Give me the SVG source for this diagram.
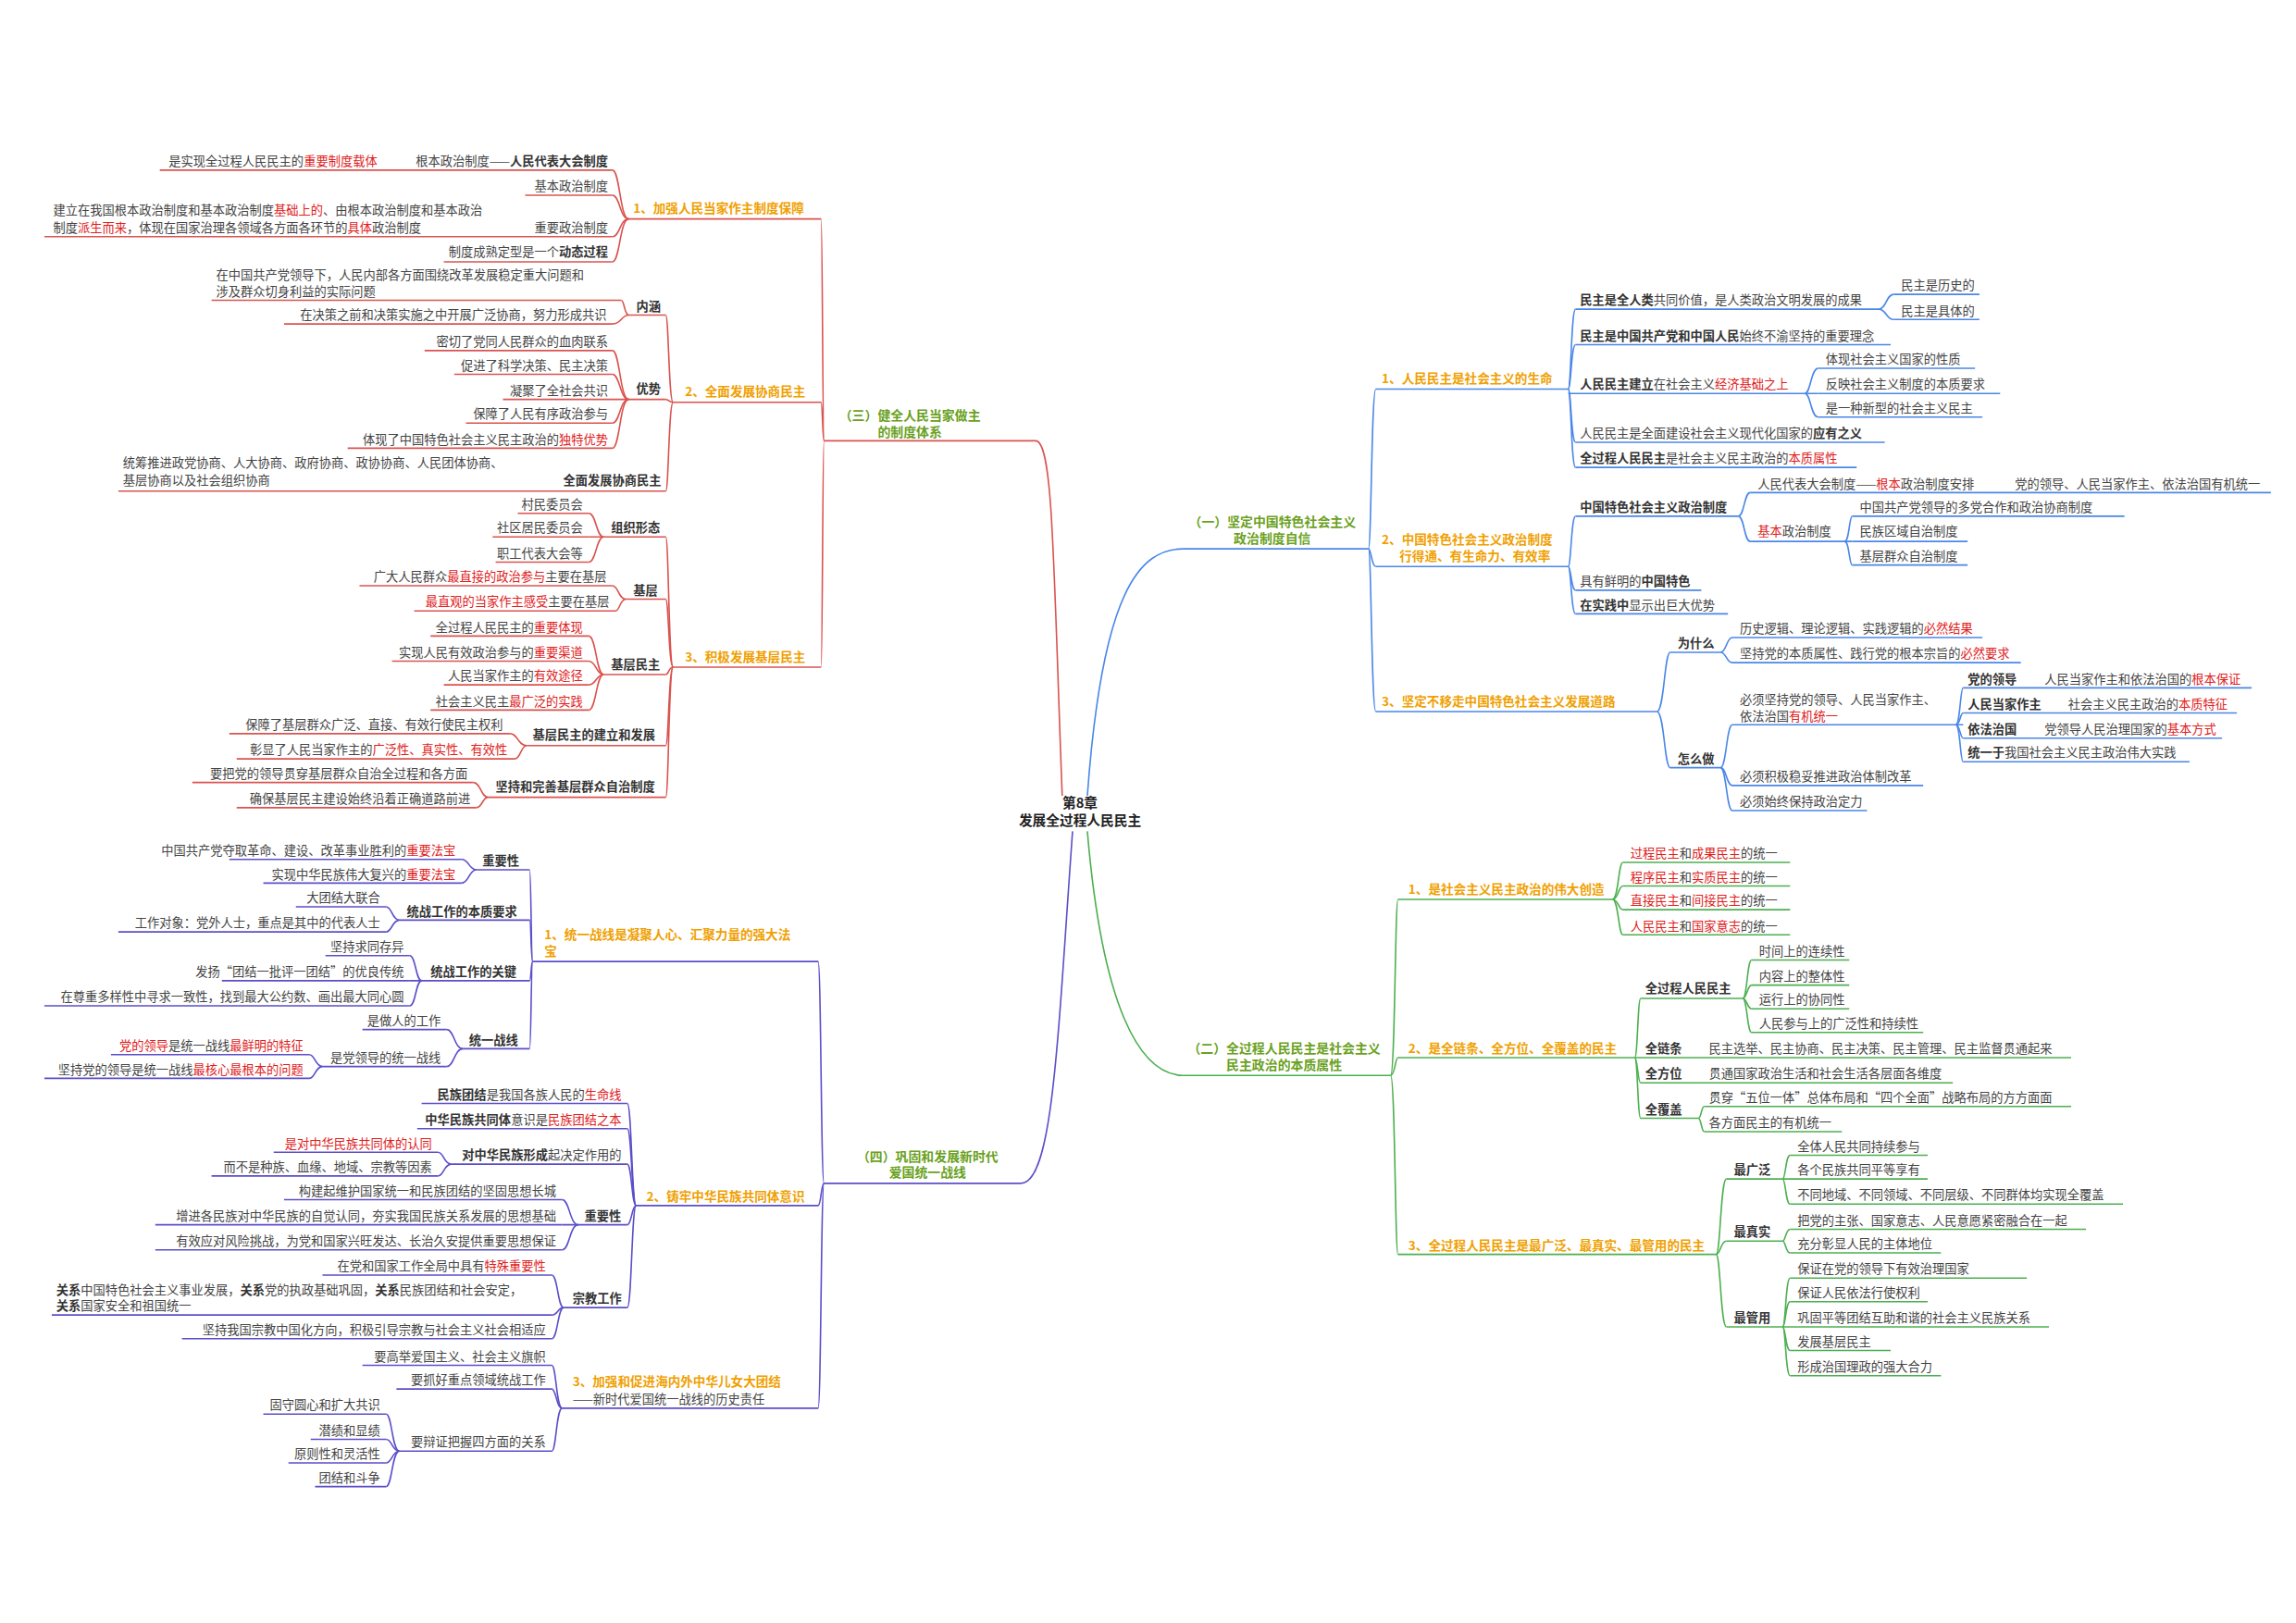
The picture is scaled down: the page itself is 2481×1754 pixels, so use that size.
<svg xmlns="http://www.w3.org/2000/svg" width="2481" height="1754" viewBox="0 0 2481 1754">
<style>
text{font-family:"Noto Sans CJK SC","Noto Sans",sans-serif;font-size:8.3px;fill:#444}
.b{font-weight:bold;fill:#333}
.r{fill:#e0201b}
.o{fill:#f0a000;font-weight:bold;font-size:8.5px}
.g{fill:#6aa121;font-weight:bold;font-size:8.7px}
.root{font-weight:bold;font-size:9.2px;fill:#222;text-anchor:middle}
.e{text-anchor:end}
.m{text-anchor:middle}
path,line{fill:none;stroke-width:1}
.R{stroke:#d9534f}.B{stroke:#4a86e8}.G{stroke:#4caf50}.P{stroke:#5b4ec9}
</style>
<rect width="2481" height="1754" fill="#fff"/>
<g transform="scale(1.5986)">
<g id="connectors">
<path class="R" d="M718,538 C712,380 712,298 700,298"/>
<path class="B" d="M735,538 C745,400 770,371 800,371"/>
<path class="G" d="M735,562 C745,680 770,727 800,727"/>
<path class="P" d="M725,562 C715,700 712,800 690,800"/>
<path class="R" d="M557,298 C556,298 556,148 555,148"/>
<path class="R" d="M557,298 C556,298 556,272 555,272"/>
<path class="R" d="M557,298 C556,298 556,451 555,451"/>
<path class="R" d="M425,148 C419,148 419,115 414,115"/>
<path class="R" d="M425,148 C419,148 419,132 414,132"/>
<path class="R" d="M425,148 C419,148 419,160 414,160"/>
<path class="R" d="M425,148 C419,148 419,177 414,177"/>
<path class="R" d="M455,272 C452,272 452,213 450,213"/>
<path class="R" d="M455,272 C452,272 452,270 450,270"/>
<path class="R" d="M455,272 C452,272 452,332 450,332"/>
<path class="R" d="M425,213 C422,213 422,203 420,203"/>
<path class="R" d="M425,213 C420,213 420,219 414,219"/>
<path class="R" d="M425,270 C419,270 419,237 414,237"/>
<path class="R" d="M425,270 C419,270 419,253 414,253"/>
<path class="R" d="M425,270 C419,270 419,286 414,286"/>
<path class="R" d="M425,270 C419,270 419,303 414,303"/>
<path class="R" d="M455,451 C452,451 452,363 450,363"/>
<path class="R" d="M455,451 C452,451 452,405 450,405"/>
<path class="R" d="M455,451 C452,451 452,456 450,456"/>
<path class="R" d="M455,451 C452,451 452,504 450,504"/>
<path class="R" d="M455,451 C452,451 452,539 450,539"/>
<path class="R" d="M408,363 C403,363 403,347 398,347"/>
<path class="R" d="M408,363 C403,363 403,380 398,380"/>
<path class="R" d="M423,405 C418,405 418,396 414,396"/>
<path class="R" d="M423,405 C419,405 419,413 416,413"/>
<path class="R" d="M408,456 C403,456 403,430 398,430"/>
<path class="R" d="M408,456 C403,456 403,447 398,447"/>
<path class="R" d="M408,456 C403,456 403,463 398,463"/>
<path class="R" d="M408,456 C403,456 403,480 398,480"/>
<path class="R" d="M356,504 C350,504 350,496 345,496"/>
<path class="R" d="M356,504 C352,504 352,513 348,513"/>
<path class="R" d="M330,539 C325,539 325,529 320,529"/>
<path class="R" d="M330,539 C326,539 326,546 322,546"/>
<path class="P" d="M557,800 C555,800 555,650 553,650"/>
<path class="P" d="M557,800 C555,800 555,815 553,815"/>
<path class="P" d="M557,800 C555,800 555,952 553,952"/>
<path class="P" d="M360,650 C359,650 359,588 358,588"/>
<path class="P" d="M360,650 C359,650 359,622 358,622"/>
<path class="P" d="M360,650 C359,650 359,663 358,663"/>
<path class="P" d="M360,650 C359,650 359,709 358,709"/>
<path class="P" d="M322,588 C317,588 317,581 312,581"/>
<path class="P" d="M322,588 C317,588 317,597 312,597"/>
<path class="P" d="M270,622 C265,622 265,613 261,613"/>
<path class="P" d="M270,622 C265,622 265,630 261,630"/>
<path class="P" d="M285,663 C281,663 281,646 277,646"/>
<path class="P" d="M285,663 C281,663 281,680 277,680"/>
<path class="P" d="M313,709 C307,709 307,696 302,696"/>
<path class="P" d="M313,709 C307,709 307,721 302,721"/>
<path class="P" d="M218,721 C213,721 213,713 209,713"/>
<path class="P" d="M218,721 C213,721 213,729 209,729"/>
<path class="P" d="M430,815 C427,815 427,746 424,746"/>
<path class="P" d="M430,815 C427,815 427,763 424,763"/>
<path class="P" d="M430,815 C427,815 427,787 424,787"/>
<path class="P" d="M430,815 C427,815 427,828 424,828"/>
<path class="P" d="M430,815 C427,815 427,884 424,884"/>
<path class="P" d="M305,787 C300,787 300,779 296,779"/>
<path class="P" d="M305,787 C300,787 300,795 296,795"/>
<path class="P" d="M391,828 C385,828 385,811 380,811"/>
<path class="P" d="M391,828 C385,828 385,845 380,845"/>
<path class="P" d="M381,884 C377,884 377,862 373,862"/>
<path class="P" d="M381,884 C377,884 377,889 373,889"/>
<path class="P" d="M381,884 C377,884 377,905 373,905"/>
<path class="P" d="M380,952 C376,952 376,923 373,923"/>
<path class="P" d="M380,952 C376,952 376,939 373,939"/>
<path class="P" d="M380,952 C376,952 376,981 373,981"/>
<path class="P" d="M270,981 C265,981 265,956 261,956"/>
<path class="P" d="M270,981 C265,981 265,973 261,973"/>
<path class="P" d="M270,981 C265,981 265,989 261,989"/>
<path class="P" d="M270,981 C265,981 265,1005 261,1005"/>
<path class="B" d="M925,371 C927,371 927,263 930,263"/>
<path class="B" d="M925,371 C927,371 927,383 930,383"/>
<path class="B" d="M925,371 C927,371 927,481 930,481"/>
<path class="B" d="M1060,263 C1062,263 1062,209 1065,209"/>
<path class="B" d="M1060,263 C1062,263 1062,233 1065,233"/>
<path class="B" d="M1060,263 C1062,263 1062,299 1065,299"/>
<path class="B" d="M1060,263 C1062,263 1062,316 1065,316"/>
<path class="B" d="M1270,209 C1275,209 1275,199 1280,199"/>
<path class="B" d="M1270,209 C1275,209 1275,216 1280,216"/>
<path class="B" d="M1220,266 C1224,266 1224,249 1229,249"/>
<path class="B" d="M1220,266 C1224,266 1224,282 1229,282"/>
<path class="B" d="M1060,383 C1062,383 1062,349 1065,349"/>
<path class="B" d="M1060,383 C1062,383 1062,399 1065,399"/>
<path class="B" d="M1060,383 C1062,383 1062,415 1065,415"/>
<path class="B" d="M1175,349 C1179,349 1179,333 1183,333"/>
<path class="B" d="M1175,349 C1179,349 1179,366 1183,366"/>
<path class="B" d="M1247,366 C1250,366 1250,349 1252,349"/>
<path class="B" d="M1247,366 C1250,366 1250,382 1252,382"/>
<path class="B" d="M1120,481 C1125,481 1125,441 1129,441"/>
<path class="B" d="M1120,481 C1125,481 1125,519 1129,519"/>
<path class="B" d="M1163,441 C1167,441 1167,431 1171,431"/>
<path class="B" d="M1163,441 C1167,441 1167,448 1171,448"/>
<path class="B" d="M1163,519 C1167,519 1167,490 1171,490"/>
<path class="B" d="M1163,519 C1167,519 1167,531 1171,531"/>
<path class="B" d="M1163,519 C1167,519 1167,548 1171,548"/>
<path class="B" d="M1322,490 C1325,490 1325,465 1327,465"/>
<path class="B" d="M1322,490 C1325,490 1325,482 1327,482"/>
<path class="B" d="M1322,490 C1325,490 1325,499 1327,499"/>
<path class="B" d="M1322,490 C1325,490 1325,515 1327,515"/>
<path class="G" d="M940,727 C943,727 943,608 945,608"/>
<path class="G" d="M940,727 C943,727 943,715 945,715"/>
<path class="G" d="M940,727 C943,727 943,848 945,848"/>
<path class="G" d="M1090,608 C1094,608 1094,583 1097,583"/>
<path class="G" d="M1090,608 C1094,608 1094,599 1097,599"/>
<path class="G" d="M1090,608 C1094,608 1094,615 1097,615"/>
<path class="G" d="M1090,608 C1094,608 1094,632 1097,632"/>
<path class="G" d="M1105,715 C1107,715 1107,675 1109,675"/>
<path class="G" d="M1105,715 C1107,715 1107,732 1109,732"/>
<path class="G" d="M1105,715 C1107,715 1107,756 1109,756"/>
<path class="G" d="M1178,675 C1181,675 1181,649 1184,649"/>
<path class="G" d="M1178,675 C1181,675 1181,666 1184,666"/>
<path class="G" d="M1178,675 C1181,675 1181,682 1184,682"/>
<path class="G" d="M1178,675 C1181,675 1181,698 1184,698"/>
<path class="G" d="M1148,756 C1150,756 1150,748 1152,748"/>
<path class="G" d="M1148,756 C1150,756 1150,765 1152,765"/>
<path class="G" d="M1160,848 C1163,848 1163,797 1167,797"/>
<path class="G" d="M1160,848 C1163,848 1163,839 1167,839"/>
<path class="G" d="M1160,848 C1163,848 1163,897 1167,897"/>
<path class="G" d="M1205,797 C1207,797 1207,781 1210,781"/>
<path class="G" d="M1205,797 C1207,797 1207,814 1210,814"/>
<path class="G" d="M1205,839 C1207,839 1207,831 1210,831"/>
<path class="G" d="M1205,839 C1207,839 1207,847 1210,847"/>
<path class="G" d="M1205,897 C1207,897 1207,864 1210,864"/>
<path class="G" d="M1205,897 C1207,897 1207,880 1210,880"/>
<path class="G" d="M1205,897 C1207,897 1207,913 1210,913"/>
<path class="G" d="M1205,897 C1207,897 1207,930 1210,930"/>
</g>

<g id="root"><text class="root" x="730" y="546">第8章</text><text class="root" x="730" y="558">发展全过程人民民主</text></g>

<g id="n3"><text class="g m" x="615" y="284">（三）健全人民当家做主</text><text class="g m" x="615" y="295">的制度体系</text><line class="R" x1="557" y1="298" x2="700" y2="298"/></g>
<g id="n3-1"><text class="o" x="428" y="144">1、加强人民当家作主制度保障</text><line class="R" x1="425" y1="148" x2="555" y2="148"/></g>
<g id="n3-1-1"><text class="e" x="411" y="112">根本政治制度——<tspan class="b">人民代表大会制度</tspan></text><text class="e" x="255" y="112">是实现全过程人民民主的<tspan class="r">重要制度载体</tspan></text><line class="R" x1="108" y1="115" x2="414" y2="115"/></g>
<g id="n3-1-2"><text class="e" x="411" y="129">基本政治制度</text><line class="R" x1="355" y1="132" x2="414" y2="132"/></g>
<g id="n3-1-3"><text class="e" x="411" y="157">重要政治制度</text><text x="36" y="145">建立在我国根本政治制度和基本政治制度<tspan class="r">基础上的</tspan>、由根本政治制度和基本政治</text><text x="36" y="157">制度<tspan class="r">派生而来</tspan>，体现在国家治理各领域各方面各环节的<tspan class="r">具体</tspan>政治制度</text><line class="R" x1="30" y1="160" x2="414" y2="160"/></g>
<g id="n3-1-4"><text class="e" x="411" y="173">制度成熟定型是一个<tspan class="b">动态过程</tspan></text><line class="R" x1="300" y1="177" x2="414" y2="177"/></g>
<g id="n3-2"><text class="o" x="463" y="268">2、全面发展协商民主</text><line class="R" x1="455" y1="272" x2="555" y2="272"/></g>
<g id="n3-2-1"><text class="b" x="430" y="210">内涵</text><line class="R" x1="425" y1="213" x2="450" y2="213"/></g>
<g id="n3-2-1a"><text x="146" y="189">在中国共产党领导下，人民内部各方面围绕改革发展稳定重大问题和</text><text x="146" y="200">涉及群众切身利益的实际问题</text><line class="R" x1="143" y1="203" x2="420" y2="203"/></g>
<g id="n3-2-1b"><text class="e" x="410" y="216">在决策之前和决策实施之中开展广泛协商，努力形成共识</text><line class="R" x1="192" y1="219" x2="414" y2="219"/></g>
<g id="n3-2-2"><text class="b" x="430" y="266">优势</text><line class="R" x1="425" y1="270" x2="450" y2="270"/></g>
<g id="n3-2-2a"><text class="e" x="411" y="234">密切了党同人民群众的血肉联系</text><line class="R" x1="287" y1="237" x2="414" y2="237"/></g>
<g id="n3-2-2b"><text class="e" x="411" y="250">促进了科学决策、民主决策</text><line class="R" x1="307" y1="253" x2="414" y2="253"/></g>
<g id="n3-2-2c"><text class="e" x="411" y="267">凝聚了全社会共识</text><line class="R" x1="340" y1="270" x2="425" y2="270"/></g>
<g id="n3-2-2d"><text class="e" x="411" y="283">保障了人民有序政治参与</text><line class="R" x1="315" y1="286" x2="414" y2="286"/></g>
<g id="n3-2-2e"><text class="e" x="411" y="300">体现了中国特色社会主义民主政治的<tspan class="r">独特优势</tspan></text><line class="R" x1="235" y1="303" x2="414" y2="303"/></g>
<g id="n3-2-3"><text class="b e" x="447" y="328">全面发展协商民主</text><text x="83" y="316">统筹推进政党协商、人大协商、政府协商、政协协商、人民团体协商、</text><text x="83" y="328">基层协商以及社会组织协商</text><line class="R" x1="80" y1="332" x2="450" y2="332"/></g>
<g id="n3-3"><text class="o" x="463" y="447">3、积极发展基层民主</text><line class="R" x1="455" y1="451" x2="555" y2="451"/></g>
<g id="n3-3-1"><text class="b" x="413" y="360">组织形态</text><line class="R" x1="398" y1="363" x2="450" y2="363"/></g>
<g id="n3-3-1a"><text class="e" x="394" y="344">村民委员会</text><line class="R" x1="350" y1="347" x2="398" y2="347"/></g>
<g id="n3-3-1b"><text class="e" x="394" y="360">社区居民委员会</text><line class="R" x1="333" y1="363" x2="398" y2="363"/></g>
<g id="n3-3-1c"><text class="e" x="394" y="377">职工代表大会等</text><line class="R" x1="335" y1="380" x2="398" y2="380"/></g>
<g id="n3-3-2"><text class="b" x="428" y="402">基层</text><line class="R" x1="423" y1="405" x2="450" y2="405"/></g>
<g id="n3-3-2a"><text class="e" x="410" y="393">广大人民群众<tspan class="r">最直接的政治参与</tspan>主要在基层</text><line class="R" x1="243" y1="396" x2="414" y2="396"/></g>
<g id="n3-3-2b"><text class="e" x="412" y="410"><tspan class="r">最直观的当家作主感受</tspan>主要在基层</text><line class="R" x1="280" y1="413" x2="416" y2="413"/></g>
<g id="n3-3-3"><text class="b" x="413" y="452">基层民主</text><line class="R" x1="408" y1="456" x2="450" y2="456"/></g>
<g id="n3-3-3a"><text class="e" x="394" y="427">全过程人民民主的<tspan class="r">重要体现</tspan></text><line class="R" x1="291" y1="430" x2="398" y2="430"/></g>
<g id="n3-3-3b"><text class="e" x="394" y="444">实现人民有效政治参与的<tspan class="r">重要渠道</tspan></text><line class="R" x1="265" y1="447" x2="398" y2="447"/></g>
<g id="n3-3-3c"><text class="e" x="394" y="460">人民当家作主的<tspan class="r">有效途径</tspan></text><line class="R" x1="300" y1="463" x2="398" y2="463"/></g>
<g id="n3-3-3d"><text class="e" x="394" y="477">社会主义民主<tspan class="r">最广泛的实践</tspan></text><line class="R" x1="291" y1="480" x2="398" y2="480"/></g>
<g id="n3-3-4"><text class="b" x="360" y="500">基层民主的建立和发展</text><line class="R" x1="356" y1="504" x2="450" y2="504"/></g>
<g id="n3-3-4a"><text class="e" x="340" y="493">保障了基层群众广泛、直接、有效行使民主权利</text><line class="R" x1="155" y1="496" x2="345" y2="496"/></g>
<g id="n3-3-4b"><text class="e" x="343" y="510">彰显了人民当家作主的<tspan class="r">广泛性、真实性、有效性</tspan></text><line class="R" x1="160" y1="513" x2="348" y2="513"/></g>
<g id="n3-3-5"><text class="b" x="335" y="535">坚持和完善基层群众自治制度</text><line class="R" x1="330" y1="539" x2="450" y2="539"/></g>
<g id="n3-3-5a"><text class="e" x="316" y="526">要把党的领导贯穿基层群众自治全过程和各方面</text><line class="R" x1="130" y1="529" x2="320" y2="529"/></g>
<g id="n3-3-5b"><text class="e" x="318" y="543">确保基层民主建设始终沿着正确道路前进</text><line class="R" x1="160" y1="546" x2="322" y2="546"/></g>

<g id="n4"><text class="g m" x="627" y="785">（四）巩固和发展新时代</text><text class="g m" x="627" y="796">爱国统一战线</text><line class="P" x1="557" y1="800" x2="690" y2="800"/></g>
<g id="n4-1"><text class="o" x="368" y="635">1、统一战线是凝聚人心、汇聚力量的强大法</text><text class="o" x="368" y="646">宝</text><line class="P" x1="360" y1="650" x2="553" y2="650"/></g>
<g id="n4-1-1"><text class="b" x="326" y="585">重要性</text><line class="P" x1="322" y1="588" x2="358" y2="588"/></g>
<g id="n4-1-1a"><text class="e" x="308" y="578">中国共产党夺取革命、建设、改革事业胜利的<tspan class="r">重要法宝</tspan></text><line class="P" x1="155" y1="581" x2="312" y2="581"/></g>
<g id="n4-1-1b"><text class="e" x="308" y="594">实现中华民族伟大复兴的<tspan class="r">重要法宝</tspan></text><line class="P" x1="178" y1="597" x2="312" y2="597"/></g>
<g id="n4-1-2"><text class="b" x="275" y="619">统战工作的本质要求</text><line class="P" x1="270" y1="622" x2="358" y2="622"/></g>
<g id="n4-1-2a"><text class="e" x="257" y="610">大团结大联合</text><line class="P" x1="200" y1="613" x2="261" y2="613"/></g>
<g id="n4-1-2b"><text class="e" x="257" y="627">工作对象：党外人士，重点是其中的代表人士</text><line class="P" x1="80" y1="630" x2="261" y2="630"/></g>
<g id="n4-1-3"><text class="b" x="291" y="660">统战工作的关键</text><line class="P" x1="277" y1="663" x2="358" y2="663"/></g>
<g id="n4-1-3a"><text class="e" x="273" y="643">坚持求同存异</text><line class="P" x1="220" y1="646" x2="277" y2="646"/></g>
<g id="n4-1-3b"><text class="e" x="273" y="660">发扬“团结一批评一团结”的优良传统</text><line class="P" x1="150" y1="663" x2="277" y2="663"/></g>
<g id="n4-1-3c"><text class="e" x="273" y="677">在尊重多样性中寻求一致性，找到最大公约数、画出最大同心圆</text><line class="P" x1="30" y1="680" x2="277" y2="680"/></g>
<g id="n4-1-4"><text class="b" x="317" y="706">统一战线</text><line class="P" x1="313" y1="709" x2="358" y2="709"/></g>
<g id="n4-1-4a"><text class="e" x="298" y="693">是做人的工作</text><line class="P" x1="245" y1="696" x2="302" y2="696"/></g>
<g id="n4-1-4b"><text class="e" x="298" y="718">是党领导的统一战线</text><line class="P" x1="218" y1="721" x2="302" y2="721"/></g>
<g id="n4-1-4b1"><text class="e r" x="205" y="710">党的领导<tspan fill="#444">是统一战线</tspan>最鲜明的特征</text><line class="P" x1="75" y1="713" x2="209" y2="713"/></g>
<g id="n4-1-4b2"><text class="e" x="205" y="726">坚持党的领导是统一战线<tspan class="r">最核心最根本的问题</tspan></text><line class="P" x1="30" y1="729" x2="209" y2="729"/></g>
<g id="n4-2"><text class="o" x="437" y="812">2、铸牢中华民族共同体意识</text><line class="P" x1="430" y1="815" x2="553" y2="815"/></g>
<g id="n4-2-1"><text class="e" x="420" y="743"><tspan class="b">民族团结</tspan>是我国各族人民的<tspan class="r">生命线</tspan></text><line class="P" x1="285" y1="746" x2="424" y2="746"/></g>
<g id="n4-2-2"><text class="e" x="420" y="760"><tspan class="b">中华民族共同体</tspan>意识是<tspan class="r">民族团结之本</tspan></text><line class="P" x1="282" y1="763" x2="424" y2="763"/></g>
<g id="n4-2-3"><text class="e" x="420" y="784"><tspan class="b">对中华民族形成</tspan>起决定作用的</text><line class="P" x1="305" y1="787" x2="424" y2="787"/></g>
<g id="n4-2-3a"><text class="e r" x="292" y="776">是对中华民族共同体的认同</text><line class="P" x1="185" y1="779" x2="296" y2="779"/></g>
<g id="n4-2-3b"><text class="e" x="292" y="792">而不是种族、血缘、地域、宗教等因素</text><line class="P" x1="143" y1="795" x2="296" y2="795"/></g>
<g id="n4-2-4"><text class="b" x="395" y="825">重要性</text><line class="P" x1="380" y1="828" x2="424" y2="828"/></g>
<g id="n4-2-4a"><text class="e" x="376" y="808">构建起维护国家统一和民族团结的坚固思想长城</text><line class="P" x1="192" y1="811" x2="380" y2="811"/></g>
<g id="n4-2-4b"><text class="e" x="376" y="825">增进各民族对中华民族的自觉认同，夯实我国民族关系发展的思想基础</text><line class="P" x1="105" y1="828" x2="380" y2="828"/></g>
<g id="n4-2-4c"><text class="e" x="376" y="842">有效应对风险挑战，为党和国家兴旺发达、长治久安提供重要思想保证</text><line class="P" x1="105" y1="845" x2="380" y2="845"/></g>
<g id="n4-2-5"><text class="b" x="387" y="881">宗教工作</text><line class="P" x1="381" y1="884" x2="424" y2="884"/></g>
<g id="n4-2-5a"><text class="e" x="369" y="859">在党和国家工作全局中具有<tspan class="r">特殊重要性</tspan></text><line class="P" x1="218" y1="862" x2="373" y2="862"/></g>
<g id="n4-2-5b"><text x="38" y="875"><tspan class="b">关系</tspan>中国特色社会主义事业发展，<tspan class="b">关系</tspan>党的执政基础巩固，<tspan class="b">关系</tspan>民族团结和社会安定，</text><text x="38" y="886"><tspan class="b">关系</tspan>国家安全和祖国统一</text><line class="P" x1="35" y1="889" x2="373" y2="889"/></g>
<g id="n4-2-5c"><text class="e" x="369" y="902">坚持我国宗教中国化方向，积极引导宗教与社会主义社会相适应</text><line class="P" x1="123" y1="905" x2="373" y2="905"/></g>
<g id="n4-3"><text class="o" x="387" y="937">3、加强和促进海内外中华儿女大团结</text><text x="387" y="949">——新时代爱国统一战线的历史责任</text><line class="P" x1="380" y1="952" x2="553" y2="952"/></g>
<g id="n4-3-1"><text class="e" x="369" y="920">要高举爱国主义、社会主义旗帜</text><line class="P" x1="245" y1="923" x2="373" y2="923"/></g>
<g id="n4-3-2"><text class="e" x="369" y="936">要抓好重点领域统战工作</text><line class="P" x1="268" y1="939" x2="373" y2="939"/></g>
<g id="n4-3-3"><text class="e" x="369" y="978">要辩证把握四方面的关系</text><line class="P" x1="270" y1="981" x2="373" y2="981"/></g>
<g id="n4-3-3a"><text class="e" x="257" y="953">固守圆心和扩大共识</text><line class="P" x1="178" y1="956" x2="261" y2="956"/></g>
<g id="n4-3-3b"><text class="e" x="257" y="970">潜绩和显绩</text><line class="P" x1="210" y1="973" x2="261" y2="973"/></g>
<g id="n4-3-3c"><text class="e" x="257" y="986">原则性和灵活性</text><line class="P" x1="195" y1="989" x2="261" y2="989"/></g>
<g id="n4-3-3d"><text class="e" x="257" y="1002">团结和斗争</text><line class="P" x1="213" y1="1005" x2="261" y2="1005"/></g>

<g id="n1"><text class="g m" x="860" y="356">（一）坚定中国特色社会主义</text><text class="g m" x="860" y="367">政治制度自信</text><line class="B" x1="800" y1="371" x2="925" y2="371"/></g>
<g id="n1-1"><text class="o" x="934" y="259">1、人民民主是社会主义的生命</text><line class="B" x1="930" y1="263" x2="1060" y2="263"/></g>
<g id="n1-1-1"><text x="1068" y="206"><tspan class="b">民主是全人类</tspan>共同价值，是人类政治文明发展的成果</text><line class="B" x1="1065" y1="209" x2="1270" y2="209"/></g>
<g id="n1-1-1a"><text x="1285" y="196">民主是历史的</text><line class="B" x1="1280" y1="199" x2="1338" y2="199"/></g>
<g id="n1-1-1b"><text x="1285" y="213">民主是具体的</text><line class="B" x1="1280" y1="216" x2="1338" y2="216"/></g>
<g id="n1-1-2"><text x="1068" y="230"><tspan class="b">民主是中国共产党和中国人民</tspan>始终不渝坚持的重要理念</text><line class="B" x1="1065" y1="233" x2="1278" y2="233"/></g>
<g id="n1-1-3"><text x="1068" y="263"><tspan class="b">人民民主建立</tspan>在社会主义<tspan class="r">经济基础之上</tspan></text><line class="B" x1="1060" y1="266" x2="1229" y2="266"/></g>
<g id="n1-1-3a"><text x="1234" y="246">体现社会主义国家的性质</text><line class="B" x1="1229" y1="249" x2="1335" y2="249"/></g>
<g id="n1-1-3b"><text x="1234" y="263">反映社会主义制度的本质要求</text><line class="B" x1="1229" y1="266" x2="1352" y2="266"/></g>
<g id="n1-1-3c"><text x="1234" y="279">是一种新型的社会主义民主</text><line class="B" x1="1229" y1="282" x2="1340" y2="282"/></g>
<g id="n1-1-4"><text x="1068" y="296">人民民主是全面建设社会主义现代化国家的<tspan class="b">应有之义</tspan></text><line class="B" x1="1065" y1="299" x2="1274" y2="299"/></g>
<g id="n1-1-5"><text x="1068" y="313"><tspan class="b">全过程人民民主</tspan>是社会主义民主政治的<tspan class="r">本质属性</tspan></text><line class="B" x1="1065" y1="316" x2="1255" y2="316"/></g>
<g id="n1-2"><text class="o" x="934" y="368">2、中国特色社会主义政治制度</text><text class="o" x="946" y="379">行得通、有生命力、有效率</text><line class="B" x1="930" y1="383" x2="1060" y2="383"/></g>
<g id="n1-2-1"><text class="b" x="1068" y="346">中国特色社会主义政治制度</text><line class="B" x1="1065" y1="349" x2="1175" y2="349"/></g>
<g id="n1-2-1a"><text x="1188" y="330">人民代表大会制度——<tspan class="r">根本</tspan>政治制度安排</text><text x="1362" y="330">党的领导、人民当家作主、依法治国有机统一</text><line class="B" x1="1183" y1="333" x2="1535" y2="333"/></g>
<g id="n1-2-1b"><text x="1188" y="362"><tspan class="r">基本</tspan>政治制度</text><line class="B" x1="1183" y1="366" x2="1252" y2="366"/></g>
<g id="n1-2-1b1"><text x="1257" y="346">中国共产党领导的多党合作和政治协商制度</text><line class="B" x1="1252" y1="349" x2="1436" y2="349"/></g>
<g id="n1-2-1b2"><text x="1257" y="362">民族区域自治制度</text><line class="B" x1="1252" y1="366" x2="1330" y2="366"/></g>
<g id="n1-2-1b3"><text x="1257" y="379">基层群众自治制度</text><line class="B" x1="1252" y1="382" x2="1330" y2="382"/></g>
<g id="n1-2-2"><text x="1068" y="396">具有鲜明的<tspan class="b">中国特色</tspan></text><line class="B" x1="1065" y1="399" x2="1150" y2="399"/></g>
<g id="n1-2-3"><text x="1068" y="412"><tspan class="b">在实践中</tspan>显示出巨大优势</text><line class="B" x1="1065" y1="415" x2="1168" y2="415"/></g>
<g id="n1-3"><text class="o" x="934" y="477">3、坚定不移走中国特色社会主义发展道路</text><line class="B" x1="930" y1="481" x2="1120" y2="481"/></g>
<g id="n1-3-1"><text class="b" x="1134" y="438">为什么</text><line class="B" x1="1129" y1="441" x2="1163" y2="441"/></g>
<g id="n1-3-1a"><text x="1176" y="428">历史逻辑、理论逻辑、实践逻辑的<tspan class="r">必然结果</tspan></text><line class="B" x1="1171" y1="431" x2="1340" y2="431"/></g>
<g id="n1-3-1b"><text x="1176" y="445">坚持党的本质属性、践行党的根本宗旨的<tspan class="r">必然要求</tspan></text><line class="B" x1="1171" y1="448" x2="1366" y2="448"/></g>
<g id="n1-3-2"><text class="b" x="1134" y="516">怎么做</text><line class="B" x1="1129" y1="519" x2="1163" y2="519"/></g>
<g id="n1-3-2a"><text x="1176" y="476">必须坚持党的领导、人民当家作主、</text><text x="1176" y="487">依法治国<tspan class="r">有机统一</tspan></text><line class="B" x1="1171" y1="490" x2="1327" y2="490"/></g>
<g id="n1-3-2a1"><text class="b" x="1330" y="462">党的领导</text><text x="1382" y="462">人民当家作主和依法治国的<tspan class="r">根本保证</tspan></text><line class="B" x1="1327" y1="465" x2="1522" y2="465"/></g>
<g id="n1-3-2a2"><text class="b" x="1330" y="479">人民当家作主</text><text x="1398" y="479">社会主义民主政治的<tspan class="r">本质特征</tspan></text><line class="B" x1="1327" y1="482" x2="1512" y2="482"/></g>
<g id="n1-3-2a3"><text class="b" x="1330" y="496">依法治国</text><text x="1382" y="496">党领导人民治理国家的<tspan class="r">基本方式</tspan></text><line class="B" x1="1327" y1="499" x2="1502" y2="499"/></g>
<g id="n1-3-2a4"><text x="1330" y="512"><tspan class="b">统一于</tspan>我国社会主义民主政治伟大实践</text><line class="B" x1="1327" y1="515" x2="1480" y2="515"/></g>
<g id="n1-3-2b"><text x="1176" y="528">必须积极稳妥推进政治体制改革</text><line class="B" x1="1171" y1="531" x2="1300" y2="531"/></g>
<g id="n1-3-2c"><text x="1176" y="545">必须始终保持政治定力</text><line class="B" x1="1171" y1="548" x2="1262" y2="548"/></g>

<g id="n2"><text class="g m" x="868" y="712">（二）全过程人民民主是社会主义</text><text class="g m" x="868" y="723">民主政治的本质属性</text><line class="G" x1="800" y1="727" x2="940" y2="727"/></g>
<g id="n2-1"><text class="o" x="952" y="604">1、是社会主义民主政治的伟大创造</text><line class="G" x1="945" y1="608" x2="1090" y2="608"/></g>
<g id="n2-1-1"><text x="1102" y="580"><tspan class="r">过程民主</tspan>和<tspan class="r">成果民主</tspan>的统一</text><line class="G" x1="1097" y1="583" x2="1210" y2="583"/></g>
<g id="n2-1-2"><text x="1102" y="596"><tspan class="r">程序民主</tspan>和<tspan class="r">实质民主</tspan>的统一</text><line class="G" x1="1097" y1="599" x2="1210" y2="599"/></g>
<g id="n2-1-3"><text x="1102" y="612"><tspan class="r">直接民主</tspan>和<tspan class="r">间接民主</tspan>的统一</text><line class="G" x1="1097" y1="615" x2="1210" y2="615"/></g>
<g id="n2-1-4"><text x="1102" y="629"><tspan class="r">人民民主</tspan>和<tspan class="r">国家意志</tspan>的统一</text><line class="G" x1="1097" y1="632" x2="1210" y2="632"/></g>
<g id="n2-2"><text class="o" x="952" y="712">2、是全链条、全方位、全覆盖的民主</text><line class="G" x1="945" y1="715" x2="1105" y2="715"/></g>
<g id="n2-2-1"><text class="b" x="1112" y="671">全过程人民民主</text><line class="G" x1="1109" y1="675" x2="1178" y2="675"/></g>
<g id="n2-2-1a"><text x="1189" y="646">时间上的连续性</text><line class="G" x1="1184" y1="649" x2="1250" y2="649"/></g>
<g id="n2-2-1b"><text x="1189" y="663">内容上的整体性</text><line class="G" x1="1184" y1="666" x2="1250" y2="666"/></g>
<g id="n2-2-1c"><text x="1189" y="679">运行上的协同性</text><line class="G" x1="1184" y1="682" x2="1250" y2="682"/></g>
<g id="n2-2-1d"><text x="1189" y="695">人民参与上的广泛性和持续性</text><line class="G" x1="1184" y1="698" x2="1300" y2="698"/></g>
<g id="n2-2-2"><text class="b" x="1112" y="712">全链条</text><text x="1155" y="712">民主选举、民主协商、民主决策、民主管理、民主监督贯通起来</text><line class="G" x1="1105" y1="715" x2="1400" y2="715"/></g>
<g id="n2-2-3"><text class="b" x="1112" y="729">全方位</text><text x="1155" y="729">贯通国家政治生活和社会生活各层面各维度</text><line class="G" x1="1109" y1="732" x2="1320" y2="732"/></g>
<g id="n2-2-4"><text class="b" x="1112" y="753">全覆盖</text><line class="G" x1="1109" y1="756" x2="1148" y2="756"/></g>
<g id="n2-2-4a"><text x="1155" y="745">贯穿“五位一体”总体布局和“四个全面”战略布局的方方面面</text><line class="G" x1="1152" y1="748" x2="1400" y2="748"/></g>
<g id="n2-2-4b"><text x="1155" y="762">各方面民主的有机统一</text><line class="G" x1="1152" y1="765" x2="1245" y2="765"/></g>
<g id="n2-3"><text class="o" x="952" y="845">3、全过程人民民主是最广泛、最真实、最管用的民主</text><line class="G" x1="945" y1="848" x2="1160" y2="848"/></g>
<g id="n2-3-1"><text class="b" x="1172" y="794">最广泛</text><line class="G" x1="1167" y1="797" x2="1205" y2="797"/></g>
<g id="n2-3-1a"><text x="1215" y="778">全体人民共同持续参与</text><line class="G" x1="1210" y1="781" x2="1303" y2="781"/></g>
<g id="n2-3-1b"><text x="1215" y="794">各个民族共同平等享有</text><line class="G" x1="1205" y1="797" x2="1303" y2="797"/></g>
<g id="n2-3-1c"><text x="1215" y="811">不同地域、不同领域、不同层级、不同群体均实现全覆盖</text><line class="G" x1="1210" y1="814" x2="1435" y2="814"/></g>
<g id="n2-3-2"><text class="b" x="1172" y="836">最真实</text><line class="G" x1="1167" y1="839" x2="1205" y2="839"/></g>
<g id="n2-3-2a"><text x="1215" y="828">把党的主张、国家意志、人民意愿紧密融合在一起</text><line class="G" x1="1210" y1="831" x2="1410" y2="831"/></g>
<g id="n2-3-2b"><text x="1215" y="844">充分彰显人民的主体地位</text><line class="G" x1="1210" y1="847" x2="1312" y2="847"/></g>
<g id="n2-3-3"><text class="b" x="1172" y="894">最管用</text><line class="G" x1="1167" y1="897" x2="1205" y2="897"/></g>
<g id="n2-3-3a"><text x="1215" y="861">保证在党的领导下有效治理国家</text><line class="G" x1="1210" y1="864" x2="1370" y2="864"/></g>
<g id="n2-3-3b"><text x="1215" y="877">保证人民依法行使权利</text><line class="G" x1="1210" y1="880" x2="1303" y2="880"/></g>
<g id="n2-3-3c"><text x="1215" y="894">巩固平等团结互助和谐的社会主义民族关系</text><line class="G" x1="1205" y1="897" x2="1385" y2="897"/></g>
<g id="n2-3-3d"><text x="1215" y="910">发展基层民主</text><line class="G" x1="1210" y1="913" x2="1278" y2="913"/></g>
<g id="n2-3-3e"><text x="1215" y="927">形成治国理政的强大合力</text><line class="G" x1="1210" y1="930" x2="1312" y2="930"/></g>
</g>
</svg>
